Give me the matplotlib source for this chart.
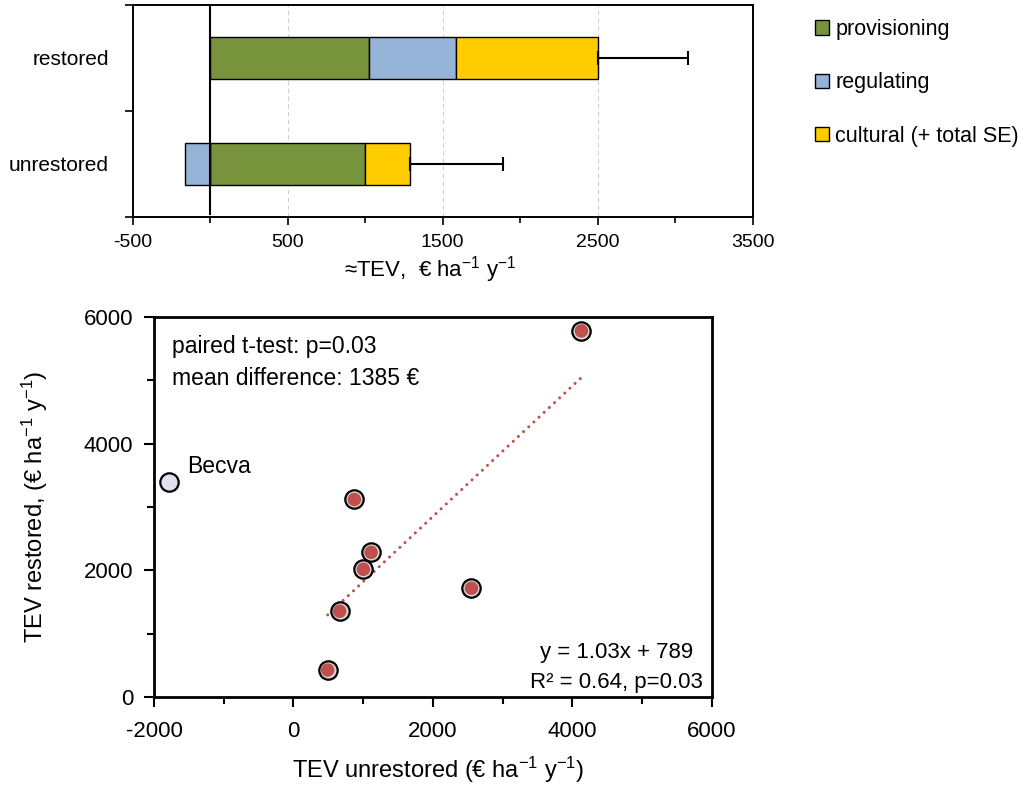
"""Two-panel TEV figure: stacked ecosystem-service values and restored vs unrestored scatter."""

import matplotlib
matplotlib.use("Agg")
import matplotlib.pyplot as plt
from matplotlib.patches import Patch

plt.rcParams["font.family"] = ["Liberation Sans", "DejaVu Sans"]
plt.rcParams["mathtext.default"] = "regular"
plt.rcParams["axes.unicode_minus"] = False

# --- top panel: mean TEV components per site state
STATES = ["unrestored", "restored"]
COMPONENTS = ["provisioning", "regulating", "cultural (+ total SE)"]
COLORS = ["#77933C", "#95B3D7", "#FFCC00"]
PROVISIONING = [1000, 1025]
REGULATING = [-165, 560]
CULTURAL = [290, 920]
TOTAL_SE = [600, 580]

# --- bottom panel: per-site TEV (€ ha-1 y-1)
SITE_UNRESTORED = [4132, 875, 1115, 1004, 664, 2554, 492]
SITE_RESTORED = [5780, 3118, 2283, 2016, 1354, 1717, 425]
BECVA = (-1779, 3402)
TREND_SLOPE = 1.03
TREND_INTERCEPT = 789

fig = plt.figure(figsize=(10.19, 7.98), dpi=100)

# ---------------- top stacked bar
ax1 = fig.add_axes([0.1302, 0.7281, 0.6084, 0.2657])
ypos = list(range(len(STATES)))
values = [PROVISIONING, REGULATING, CULTURAL]
for i, y in enumerate(ypos):
    pos, neg = 0, 0
    for vals, color in zip(values, COLORS):
        v = vals[i]
        if v >= 0:
            left = pos
            pos += v
        else:
            left = neg
            neg += v
        ax1.barh(y, v, left=left, height=0.4, color=color, edgecolor="black",
                 linewidth=1.0, zorder=3)
    ax1.errorbar(pos, y, xerr=[[0], [TOTAL_SE[i]]], fmt="none", ecolor="black",
                 elinewidth=1.5, capsize=5, capthick=1.5, zorder=4)

ax1.axvline(0, ymin=0.012, color="black", linewidth=1.5, zorder=5)
ax1.set_xlim(-500, 3500)
ax1.set_ylim(-0.5, 1.5)
ax1.set_xticks([-500, 500, 1500, 2500, 3500])
ax1.set_xticks([0, 1000, 2000, 3000], minor=True)
ax1.set_yticks(ypos, STATES)
ax1.set_yticks([-0.5, 0.5, 1.5], minor=True)
ax1.tick_params(axis="y", which="major", length=0, pad=17, labelsize=15)
ax1.tick_params(axis="y", which="minor", length=6, width=1.2)
ax1.tick_params(axis="x", which="major", length=6, width=1.2, labelsize=14, pad=6)
ax1.tick_params(axis="x", which="minor", length=4, width=1.2)
ax1.grid(axis="x", which="major", linestyle=(0, (4, 3)), color="#D0D0D0", linewidth=0.8, zorder=0)
for s in ax1.spines.values():
    s.set_linewidth(1.4)
fig.text(430 / 1019, 1 - 270 / 798, r"≈TEV,  € ha$^{-1}$ y$^{-1}$", ha="center", va="center",
         fontsize=16)

handles = [Patch(facecolor=c, edgecolor="black", linewidth=1.0) for c in COLORS]
fig.legend(handles, COMPONENTS, loc="upper left", bbox_to_anchor=(815 / 1019, 1 - 19 / 798),
           frameon=False, fontsize=15.5, handlelength=0.65, handleheight=0.65,
           handletextpad=0.3, labelspacing=1.5, borderpad=0, borderaxespad=0)

# ---------------- bottom scatter
ax2 = fig.add_axes([0.1511, 0.1266, 0.5473, 0.4762])
xs = [min(SITE_UNRESTORED), max(SITE_UNRESTORED)]
ax2.plot(xs, [TREND_SLOPE * x + TREND_INTERCEPT for x in xs], color="#C0504D",
         linewidth=2.2, linestyle=(0, (0.01, 2.3)), dash_capstyle="round",
         solid_capstyle="round", zorder=2)
ax2.scatter(SITE_UNRESTORED, SITE_RESTORED, s=175, facecolor="#D9D9D9",
            edgecolor="black", linewidth=1.6, zorder=3)
ax2.scatter(SITE_UNRESTORED, SITE_RESTORED, s=95, facecolor="#C0504D",
            edgecolor="none", zorder=4)
ax2.scatter([BECVA[0]], [BECVA[1]], s=175, facecolor="#E4DFEC", edgecolor="black",
            linewidth=1.6, zorder=3)
ax2.annotate("Becva", BECVA, xytext=(13, 11), textcoords="offset points",
             fontsize=16.5, va="center", ha="left")

ax2.set_xlim(-2000, 6000)
ax2.set_ylim(0, 6000)
ax2.set_xticks([-2000, 0, 2000, 4000, 6000])
ax2.set_xticks([-1000, 1000, 3000, 5000], minor=True)
ax2.set_yticks([0, 2000, 4000, 6000])
ax2.set_yticks([1000, 3000, 5000], minor=True)
ax2.tick_params(which="major", length=7, width=1.5, labelsize=16)
ax2.tick_params(which="minor", length=5, width=1.5)
ax2.tick_params(axis="x", pad=10)
ax2.tick_params(axis="y", pad=8)
for s in ax2.spines.values():
    s.set_linewidth(2.0)

ax2.text(0.032, 0.921, "paired t-test: p=0.03", transform=ax2.transAxes, fontsize=16.5,
         va="center", ha="left")
ax2.text(0.032, 0.839, "mean difference: 1385 €", transform=ax2.transAxes, fontsize=16.5,
         va="center", ha="left")
ax2.text(0.830, 0.118, "y = 1.03x + 789", transform=ax2.transAxes, fontsize=16,
         va="center", ha="center")
ax2.text(0.830, 0.037, "R² = 0.64, p=0.03", transform=ax2.transAxes, fontsize=16,
         va="center", ha="center")

fig.text(35 / 1019, 1 - 507 / 798, r"TEV restored, (€ ha$^{-1}$ y$^{-1}$)", rotation=90,
         ha="center", va="center", fontsize=17)
fig.text(438 / 1019, 1 - 770 / 798, r"TEV unrestored (€ ha$^{-1}$ y$^{-1}$)",
         ha="center", va="center", fontsize=17)

fig.savefig("out.png", dpi=100)
